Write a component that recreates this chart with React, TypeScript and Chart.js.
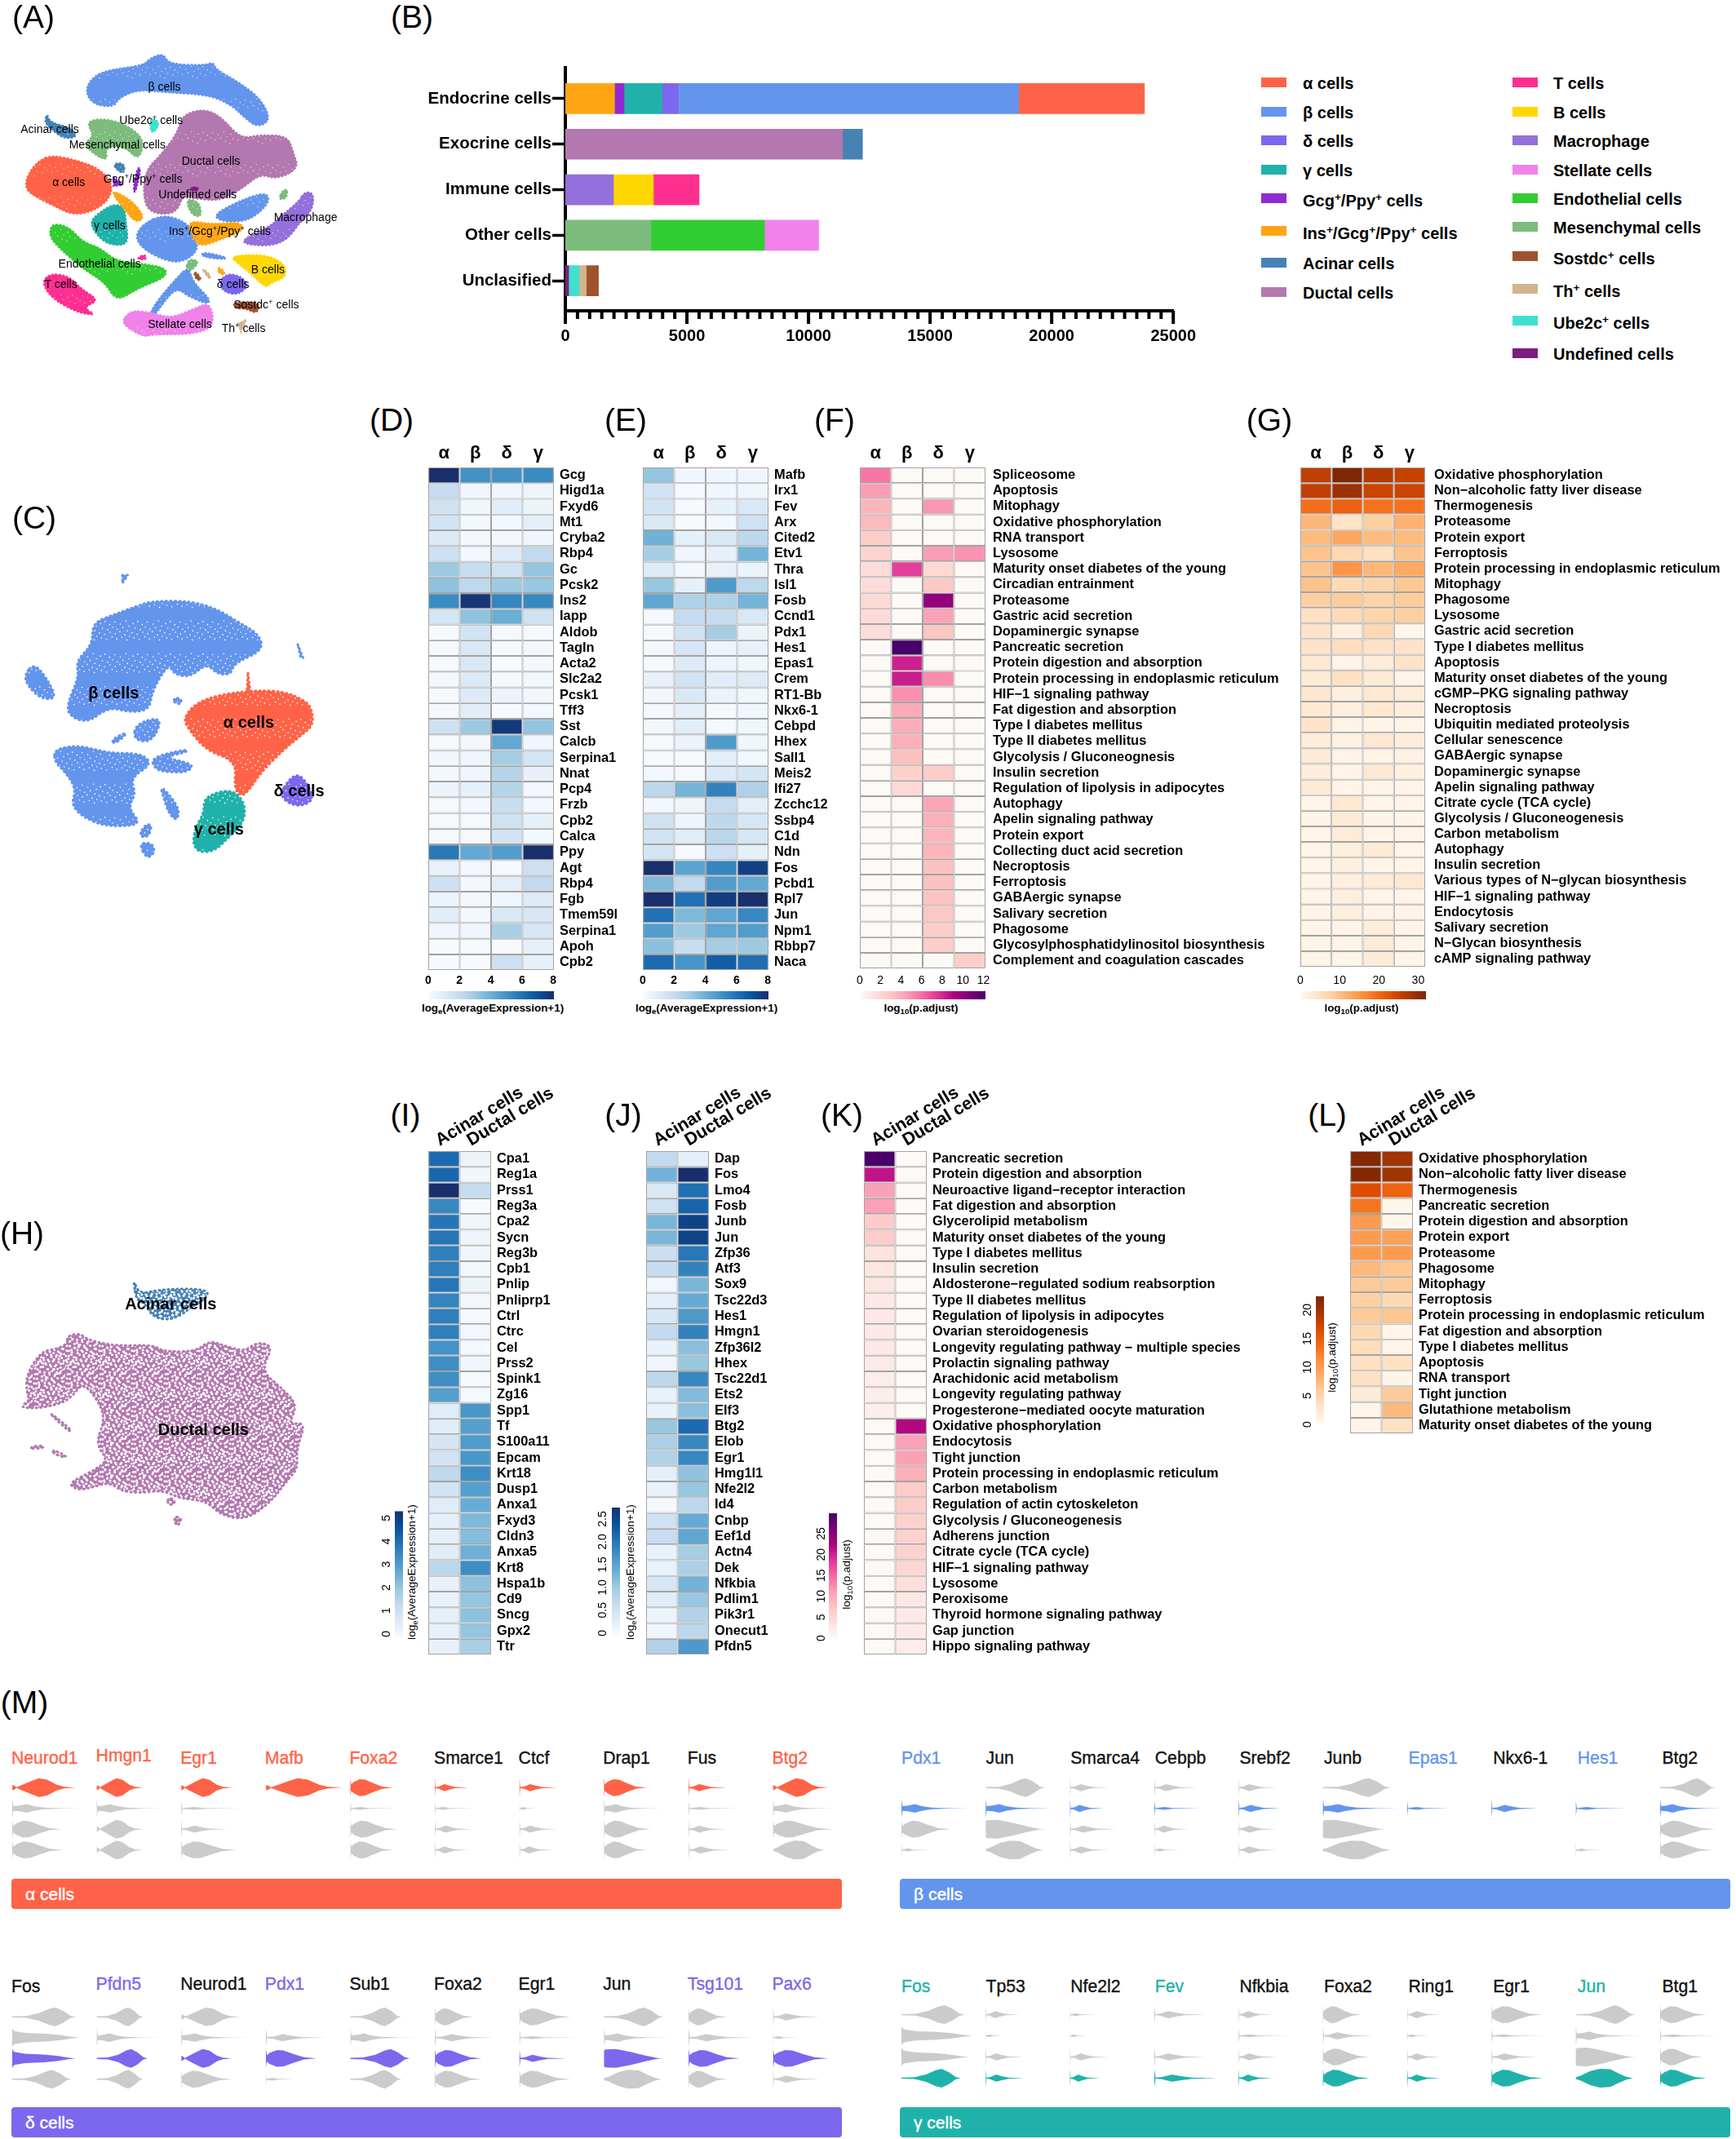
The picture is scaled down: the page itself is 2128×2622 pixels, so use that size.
import React, { useEffect, useRef } from 'react';
import Chart from 'chart.js/auto';

const FONT = '"Liberation Sans", Arial, sans-serif';
const TOMATO = '#ff6347', CORNFLOWER = '#6495ed', SLATE = '#7b68ee', SEA = '#20b2aa';
const GCG = '#8f2bd0', INS = '#ffa514', ACINAR = '#4682b4', DUCTAL = '#b378b0', TCELL = '#ff2f92', BCELL = '#ffd700',
  MACRO = '#9370db', STELLATE = '#f082ea', ENDO = '#32cd32', MESEN = '#7cbc7c', SOSTDC = '#a0522d', TH = '#d2b48c', UBE = '#40e0d0', UNDEF = '#7e1d7e';

/* ---------- (B) stacked bars ---------- */
const groupLabels = ['Endocrine cells', 'Exocrine cells', 'Immune cells', 'Other cells', 'Unclasified'];
const endocrineValues = [2025, 390, 1550, 680, 14000, 5170];
const endocrineColors = [INS, GCG, SEA, SLATE, CORNFLOWER, TOMATO];
const exocrineValues = [11400, 820];
const exocrineColors = [DUCTAL, ACINAR];
const immuneValues = [1980, 1640, 1880];
const immuneColors = [MACRO, BCELL, TCELL];
const otherValues = [3527, 4660, 2230];
const otherColors = [MESEN, ENDO, STELLATE];
const unclassifiedValues = [136, 430, 295, 500];
const unclassifiedColors = [UNDEF, UBE, TH, SOSTDC];
const legendLeft: [string, string, number][] = [['α cells', TOMATO, 101], ['β cells', CORNFLOWER, 137], ['δ cells', SLATE, 172], ['γ cells', SEA, 208], ['Gcg^+/Ppy^+ cells', GCG, 243], ['Ins^+/Gcg^+/Ppy^+ cells', INS, 283], ['Acinar cells', ACINAR, 322], ['Ductal cells', DUCTAL, 358]];
const legendRight: [string, string, number][] = [['T cells', TCELL, 101], ['B cells', BCELL, 137], ['Macrophage', MACRO, 172], ['Stellate cells', STELLATE, 208], ['Endothelial cells', ENDO, 243], ['Mesenchymal cells', MESEN, 278], ['Sostdc^+ cells', SOSTDC, 314], ['Th^+ cells', TH, 354], ['Ube2c^+ cells', UBE, 393], ['Undefined cells', UNDEF, 433]];

/* ---------- heat-map tables ---------- */
const endocrineCols = ['α', 'β', 'δ', 'γ'];
const exoCols = ['Acinar cells', 'Ductal cells'];
const dGenes = ['Gcg', 'Higd1a', 'Fxyd6', 'Mt1', 'Cryba2', 'Rbp4', 'Gc', 'Pcsk2', 'Ins2', 'Iapp', 'Aldob', 'Tagln', 'Acta2', 'Slc2a2', 'Pcsk1', 'Tff3', 'Sst', 'Calcb', 'Serpina1', 'Nnat', 'Pcp4', 'Frzb', 'Cpb2', 'Calca', 'Ppy', 'Agt', 'Rbp4', 'Fgb', 'Tmem59l', 'Serpina1', 'Apoh', 'Cpb2'];
const dValues = [[8, 5, 5, 5.2], [2, .3, .3, .4], [1.6, .3, .9, .5], [1.5, .2, .2, .8], [1.1, .2, .2, .3], [1.7, .2, 1, 2.1], [3, 1.9, 1.6, 3.2], [3.3, 2.2, 3, 3.1], [5.2, 7.8, 5.4, 5.3], [1.4, 3.3, 4, 1.6], [.1, 1.5, .1, .1], [.1, 1.2, .05, .2], [.1, 1.2, .05, .2], [.2, 1.1, .1, .2], [.1, 1, .5, .2], [.1, .9, .05, .2], [1.6, 3, 7.7, 3.2], [.1, .2, 4.2, .3], [.3, .3, 2.8, 1.4], [.2, .3, 2.4, .6], [.5, .7, 2.4, .2], [.1, .2, 1.9, .2], [.1, .1, 1.6, .7], [.1, .1, 1.5, .2], [5.8, 4.2, 4.6, 8], [.6, .2, .1, 1.7], [1.7, .2, .8, 2.1], [.5, .2, .3, 1], [.9, .2, 1.2, 1.3], [.3, .3, 2.7, 1.3], [.05, .1, .05, .7], [.05, .05, 1.7, .7]];
const eGenes = ['Mafb', 'Irx1', 'Fev', 'Arx', 'Cited2', 'Etv1', 'Thra', 'Isl1', 'Fosb', 'Ccnd1', 'Pdx1', 'Hes1', 'Epas1', 'Crem', 'RT1-Bb', 'Nkx6-1', 'Cebpd', 'Hhex', 'Sall1', 'Meis2', 'Ifi27', 'Zcchc12', 'Ssbp4', 'C1d', 'Ndn', 'Fos', 'Pcbd1', 'Rpl7', 'Jun', 'Npm1', 'Rbbp7', 'Naca'];
const eValues = [[3.2, .3, .3, .3], [1.5, .1, .3, .3], [1.5, .1, .7, 1.2], [1.2, .05, .2, 1.6], [3.9, .7, 1.2, 2.2], [2.8, .3, .7, 3.8], [1, .2, .6, .5], [3.1, .7, 4.7, 2.2], [4.3, 2.6, 2.6, 3.8], [.1, 2, 2, 1.2], [.1, 1.6, 2.8, .5], [.2, 1.3, .4, .6], [.1, 1, .4, .3], [.6, 1.5, .9, 1], [.2, 1.2, .5, .3], [.2, .8, .1, .3], [.2, .9, .1, .3], [.1, .5, 4.7, .3], [.1, .1, .8, .2], [.2, .1, 1.1, 1.4], [2.2, 3.8, 5.5, 2.6], [.2, .4, 2, .8], [1.6, .4, 2.2, 1.3], [1.5, .9, 2.3, 1.3], [1.4, .1, 1.7, .7], [8, 4.4, 5.4, 7.5], [3.6, 2.1, 4.6, 4.2], [8, 6, 7.6, 8], [6, 3.6, 4.3, 5.3], [4.6, 3, 4.3, 4.6], [3.4, 1.9, 2.8, 3], [6.2, 4.9, 6.6, 6.1]];
const fTerms = ['Spliceosome', 'Apoptosis', 'Mitophagy', 'Oxidative phosphorylation', 'RNA transport', 'Lysosome', 'Maturity onset diabetes of the young', 'Circadian entrainment', 'Proteasome', 'Gastric acid secretion', 'Dopaminergic synapse', 'Pancreatic secretion', 'Protein digestion and absorption', 'Protein processing in endoplasmic reticulum', 'HIF−1 signaling pathway', 'Fat digestion and absorption', 'Type I diabetes mellitus', 'Type II diabetes mellitus', 'Glycolysis / Gluconeognesis', 'Insulin secretion', 'Regulation of lipolysis in adipocytes', 'Autophagy', 'Apelin signaling pathway', 'Protein export', 'Collecting duct acid secretion', 'Necroptosis', 'Ferroptosis', 'GABAergic synapse', 'Salivary secretion', 'Phagosome', 'Glycosylphosphatidylinositol biosynthesis', 'Complement and coagulation cascades'];
const fValues = [[5.7, 0, 0, 0], [4.6, 0, 0, 0], [3.6, 0, 4.8, 0], [3.5, 0, 0, 0], [2.6, 0, 0, 0], [2.2, 0, 4.6, 4.9], [1.8, 7.3, 2, 0], [1.7, 0, 2.8, 0], [1.9, 0, 10, 0], [1.8, 0, 4.4, 0], [1.7, 0, 3, 0], [0, 12.2, 0, 0], [0, 8.2, 0, 0], [0, 8.3, 5.1, 0], [0, 5, 0, 0], [0, 4.1, 0, 0], [0, 4, 0, 0], [0, 3.9, 0, 0], [0, 3.2, 0, 0], [0, 2.4, 2.6, 0], [0, 2, 0, 0], [0, 0, 4.3, 0], [0, 0, 3.9, 0], [0, 0, 3.7, 0], [0, 0, 3.7, 0], [0, 0, 3.2, 0], [0, 0, 3.2, 0], [0, 0, 3.1, 0], [0, 0, 2.9, 0], [0, 0, 2.6, 0], [0, 0, 2.6, 0], [0, 0, 0, 2.5]];
const gTerms = ['Oxidative phosphorylation', 'Non−alcoholic fatty liver disease', 'Thermogenesis', 'Proteasome', 'Protein export', 'Ferroptosis', 'Protein processing in endoplasmic reticulum', 'Mitophagy', 'Phagosome', 'Lysosome', 'Gastric acid secretion', 'Type I diabetes mellitus', 'Apoptosis', 'Maturity onset diabetes of the young', 'cGMP−PKG signaling pathway', 'Necroptosis', 'Ubiquitin mediated proteolysis', 'Cellular senescence', 'GABAergic synapse', 'Dopaminergic synapse', 'Apelin signaling pathway', 'Citrate cycle (TCA cycle)', 'Glycolysis / Gluconeogenesis', 'Carbon metabolism', 'Autophagy', 'Insulin secretion', 'Various types of N−glycan biosynthesis', 'HIF−1 signaling pathway', 'Endocytosis', 'Salivary secretion', 'N−Glycan biosynthesis', 'cAMP signaling pathway'];
const gValues = [[26, 32, 27, 25.5], [26, 29, 25, 25], [19.5, 21, 19, 19], [11, 4.5, 8, 11.5], [10.5, 13, 10.5, 10.5], [9.5, 6.5, 5, 9.5], [9.5, 15, 11, 12.5], [9.5, 6, 7, 9], [8, 8.5, 7.5, 8.5], [5, 6, 7, 8], [4.5, 2, 6.5, .5], [4.5, 5.5, 4.5, 4.5], [3.5, 1, 2.5, 4.5], [3, 5, 3, 1], [4, 2, 3.5, 2.5], [3.5, 2, 3.5, 2.5], [4.5, 1, 1, 1], [2.5, 1.5, 3.5, 2.5], [3, 1, 1, 1.5], [2.5, 1, 3.5, 2], [3, 1, 1, 1], [1, 3.5, .8, 1], [1, 3, .8, 1], [1, 2.8, .8, 1], [1, 2.3, 3, 1], [1, 2, .8, 1], [1, 2, 2.8, 3.5], [1, 2.2, 1, 1], [1, 2, 1, 1], [1, 1, 2.5, 1], [1, 1, 2.8, 1], [1, 1, 2.8, 1]];
const iGenes = ['Cpa1', 'Reg1a', 'Prss1', 'Reg3a', 'Cpa2', 'Sycn', 'Reg3b', 'Cpb1', 'Pnlip', 'Pnliprp1', 'Ctrl', 'Ctrc', 'Cel', 'Prss2', 'Spink1', 'Zg16', 'Spp1', 'Tf', 'S100a11', 'Epcam', 'Krt18', 'Dusp1', 'Anxa1', 'Fxyd3', 'Cldn3', 'Anxa5', 'Krt8', 'Hspa1b', 'Cd9', 'Sncg', 'Gpx2', 'Ttr'];
const iValues = [[4.1, .3], [4.2, .15], [5.3, 1.3], [3.5, .05], [3.9, .2], [3.9, .25], [3.7, .2], [3.7, .15], [3.9, .3], [3.6, .15], [3.7, .1], [3.7, .15], [3.3, .1], [3.4, .2], [3.4, .05], [3, .1], [.6, 3.2], [.6, 3], [.9, 3.1], [1, 3.2], [1.4, 3.4], [1, 3], [.6, 2.7], [.5, 2.4], [.5, 2.3], [.6, 2.6], [1.5, 3.4], [.4, 2.2], [.4, 2.1], [.5, 2.2], [.4, 2.1], [.4, 1.8]];
const jGenes = ['Dap', 'Fos', 'Lmo4', 'Fosb', 'Junb', 'Jun', 'Zfp36', 'Atf3', 'Sox9', 'Tsc22d3', 'Hes1', 'Hmgn1', 'Zfp36l2', 'Hhex', 'Tsc22d1', 'Ets2', 'Elf3', 'Btg2', 'Elob', 'Egr1', 'Hmg1l1', 'Nfe2l2', 'Id4', 'Cnbp', 'Eef1d', 'Actn4', 'Dek', 'Nfkbia', 'Pdlim1', 'Pik3r1', 'Onecut1', 'Pfdn5'];
const jValues = [[.7, .25], [1.3, 2.7], [.4, 2.05], [.55, 2.15], [1.25, 2.5], [1.25, 2.5], [.6, 1.95], [.65, 1.85], [.08, 1.25], [.25, 1.4], [.45, 1.6], [.7, 1.85], [.2, 1.15], [.1, 1.05], [.75, 1.8], [.2, 1.2], [.2, 1.15], [1.05, 2.1], [.9, 1.8], [.85, 1.8], [.25, 1.1], [.2, 1.05], [.05, .75], [.55, 1.4], [.65, 1.45], [.2, .95], [.2, .9], [.45, 1.3], [.3, 1.05], [.15, .85], [.1, .75], [.85, 1.6]];
const kTerms = ['Pancreatic secretion', 'Protein digestion and absorption', 'Neuroactive ligand−receptor interaction', 'Fat digestion and absorption', 'Glycerolipid metabolism', 'Maturity onset diabetes of the young', 'Type I diabetes mellitus', 'Insulin secretion', 'Aldosterone−regulated sodium reabsorption', 'Type II diabetes mellitus', 'Regulation of lipolysis in adipocytes', 'Ovarian steroidogenesis', 'Longevity regulating pathway − multiple species', 'Prolactin signaling pathway', 'Arachidonic acid metabolism', 'Longevity regulating pathway', 'Progesterone−mediated oocyte maturation', 'Oxidative phosphorylation', 'Endocytosis', 'Tight junction', 'Protein processing in endoplasmic reticulum', 'Carbon metabolism', 'Regulation of actin cytoskeleton', 'Glycolysis / Gluconeogenesis', 'Adherens junction', 'Citrate cycle (TCA cycle)', 'HIF−1 signaling pathway', 'Lysosome', 'Peroxisome', 'Thyroid hormone signaling pathway', 'Gap junction', 'Hippo signaling pathway'];
const kValues = [[29.9, 0], [21, 0], [11, 0], [11, 0], [6.5, 0], [6.5, 0], [3.5, 0], [3, 0], [3, 0], [2.5, 0], [2.5, 0], [2.5, 0], [2.5, 0], [2.3, 0], [1.8, 0], [1.7, 0], [1.6, 0], [0, 22], [0, 11], [0, 11], [0, 9.5], [0, 6.5], [0, 6.3], [0, 6], [0, 5.7], [0, 5.7], [0, 5], [0, 4], [0, 2.5], [0, 2.3], [0, 2.3], [0, 2]];
const lTerms = ['Oxidative phosphorylation', 'Non−alcoholic fatty liver disease', 'Thermogenesis', 'Pancreatic secretion', 'Protein digestion and absorption', 'Protein export', 'Proteasome', 'Phagosome', 'Mitophagy', 'Ferroptosis', 'Protein processing in endoplasmic reticulum', 'Fat digestion and absorption', 'Type I diabetes mellitus', 'Apoptosis', 'RNA transport', 'Tight junction', 'Glutathione metabolism', 'Maturity onset diabetes of the young'];
const lValues = [[22, 20], [22, 20], [16.5, 14.5], [13, .3], [10, .3], [10, 9.5], [10, 10], [7.5, 6.5], [6, 6], [5.5, 4.5], [6, 6.5], [4.5, .6], [4, .6], [3.5, 3.5], [3.5, .6], [2, 6], [.6, 7.5], [.6, 3.5]];

const BLUES = ['#f7fbff', '#deebf7', '#c6dbef', '#9ecae1', '#6baed6', '#4292c6', '#2171b5', '#08519c', '#192f6b'];
const PINKS = ['#fdf9f5', '#fde0dd', '#fcc5c0', '#fa9fb5', '#f768a1', '#dd3497', '#ae017e', '#7a0177', '#49006a'];
const ORANGES = ['#fff8ef', '#fee6ce', '#fdd0a2', '#fdae6b', '#fd8d3c', '#f16913', '#d94801', '#a63603', '#7f2704'];

/* ---------- cluster outlines read from the embeddings ---------- */
const aBlobs: [string, number[]][] = [
  [CORNFLOWER, [160, 300, 185, 260, 260, 240, 270, 215, 295, 195, 305, 235, 370, 240, 385, 228, 390, 255, 430, 300, 470, 360, 490, 440, 465, 470, 440, 430, 420, 390, 380, 350, 300, 340, 250, 330, 215, 360, 205, 395, 170, 385, 155, 345]],
  [DUCTAL, [330, 420, 370, 400, 400, 430, 435, 510, 470, 495, 520, 500, 530, 560, 540, 620, 500, 660, 470, 640, 440, 690, 400, 740, 350, 730, 330, 720, 320, 780, 290, 790, 265, 770, 258, 700, 265, 620, 290, 570, 320, 490]],
  [MESEN, [155, 445, 190, 435, 230, 460, 260, 510, 255, 570, 245, 580, 225, 540, 190, 540, 195, 590, 175, 575, 150, 530, 170, 500]],
  [MESEN, [510, 700, 520, 695, 518, 730, 503, 735]],
  [MESEN, [335, 730, 360, 740, 365, 800, 345, 790]],
  [MESEN, [340, 950, 360, 960, 350, 990, 335, 1000]],
  [ACINAR, [85, 415, 90, 450, 130, 470, 140, 505, 115, 510, 95, 480, 80, 450]],
  [ACINAR, [205, 600, 225, 600, 225, 640, 210, 625]],
  [TOMATO, [95, 570, 140, 590, 180, 620, 205, 680, 195, 740, 165, 780, 130, 790, 100, 760, 60, 720, 45, 690, 50, 640, 70, 590]],
  [SEA, [205, 750, 225, 760, 228, 820, 232, 890, 215, 905, 185, 890, 160, 820, 180, 780]],
  [INS, [205, 700, 240, 740, 262, 800, 245, 820, 225, 770, 205, 720]],
  [CORNFLOWER, [295, 790, 330, 810, 350, 850, 360, 920, 330, 965, 300, 960, 260, 920, 243, 870, 260, 820]],
  [CORNFLOWER, [430, 740, 480, 705, 488, 740, 465, 790, 440, 815, 400, 815, 385, 790]],
  [CORNFLOWER, [365, 925, 410, 945, 405, 955, 365, 945]],
  [CORNFLOWER, [340, 980, 350, 1040, 380, 1100, 375, 1120, 340, 1090, 320, 1060, 300, 1100, 280, 1160, 270, 1150, 290, 1090, 320, 1020]],
  [INS, [340, 810, 385, 825, 435, 815, 440, 850, 400, 880, 360, 910, 345, 860]],
  [GCG, [248, 615, 255, 620, 245, 710, 240, 700]],
  [GCG, [205, 650, 222, 680, 205, 685]],
  [MACRO, [550, 705, 567, 710, 565, 770, 545, 810, 520, 880, 490, 905, 445, 900, 437, 880, 490, 830, 510, 790, 540, 740]],
  [ENDO, [95, 820, 125, 835, 150, 890, 180, 910, 210, 960, 260, 970, 300, 985, 300, 1020, 250, 1060, 210, 1110, 190, 1040, 150, 990, 100, 900, 88, 860]],
  [TCELL, [90, 1005, 125, 1015, 145, 1060, 180, 1105, 150, 1130, 175, 1160, 140, 1150, 95, 1100, 75, 1040]],
  [TCELL, [250, 945, 262, 935, 265, 955, 250, 955]],
  [BCELL, [415, 940, 480, 935, 515, 970, 517, 1020, 490, 1040, 480, 1060, 455, 1010, 430, 970]],
  [INS, [392, 985, 400, 985, 408, 1010, 398, 1010]],
  [SLATE, [410, 1005, 435, 1015, 450, 1050, 430, 1085, 405, 1075, 395, 1040]],
  [STELLATE, [240, 1140, 275, 1150, 310, 1170, 350, 1135, 380, 1110, 388, 1200, 350, 1230, 275, 1230, 260, 1240, 225, 1200, 222, 1170]],
  [SOSTDC, [355, 1000, 365, 1030, 355, 1030, 350, 1005]],
  [SOSTDC, [420, 1110, 470, 1110, 465, 1155, 445, 1135, 425, 1135]],
  [TH, [365, 985, 380, 1010, 380, 1030, 370, 1005]],
  [TH, [430, 1190, 445, 1175, 435, 1220]],
  [UBE, [275, 430, 290, 455, 275, 495, 270, 460]],
  [UNDEF, [345, 688, 358, 688, 358, 702, 345, 702]],
];
const aLabels: [string, number, number][] = [['β cells', 297, 318], ['Ube2c^+ cells', 273, 440], ['Acinar cells', 90, 474], ['Mesenchymal cells', 212, 530], ['Ductal cells', 381, 592], ['α cells', 124, 668], ['Gcg^+/Ppy^+ cells', 258, 658], ['Undefined cells', 357, 714], ['Macrophage', 552, 798], ['γ cells', 198, 828], ['Ins^+/Gcg^+/Ppy^+ cells', 397, 850], ['Endothelial cells', 180, 969], ['B cells', 484, 991], ['T cells', 110, 1045], ['δ cells', 421, 1044], ['Sostdc^+ cells', 481, 1120], ['Stellate cells', 325, 1192], ['Th^+ cells', 440, 1207]];

const cBlobs: [string, number[]][] = [
  [CORNFLOWER, [340, 490, 420, 460, 500, 430, 560, 410, 700, 410, 800, 440, 880, 490, 950, 530, 970, 590, 860, 640, 850, 680, 800, 680, 760, 640, 700, 690, 640, 680, 620, 640, 560, 740, 550, 810, 480, 820, 400, 800, 320, 860, 250, 830, 250, 780, 290, 690, 280, 630, 340, 570]],
  [CORNFLOWER, [125, 640, 170, 690, 210, 770, 150, 770, 100, 720, 90, 680]],
  [CORNFLOWER, [200, 955, 290, 940, 400, 970, 520, 970, 560, 1010, 480, 1060, 500, 1120, 470, 1170, 520, 1230, 440, 1240, 350, 1230, 260, 1170, 280, 1100, 240, 1040, 200, 1000]],
  [CORNFLOWER, [500, 860, 600, 835, 560, 930, 490, 920]],
  [CORNFLOWER, [410, 920, 470, 890, 450, 915, 420, 935]],
  [CORNFLOWER, [555, 985, 685, 955, 690, 965, 600, 985, 715, 1010, 690, 1040, 620, 1040, 570, 1030]],
  [CORNFLOWER, [590, 1090, 630, 1130, 660, 1180, 650, 1220, 620, 1190, 600, 1130]],
  [CORNFLOWER, [510, 1300, 560, 1300, 570, 1335, 540, 1360]],
  [CORNFLOWER, [535, 1230, 560, 1235, 545, 1280, 510, 1275]],
  [CORNFLOWER, [450, 315, 470, 315, 450, 345]],
  [CORNFLOWER, [1095, 570, 1115, 620, 1105, 615]],
  [CORNFLOWER, [640, 765, 668, 770, 665, 790, 640, 785]],
  [TOMATO, [670, 840, 740, 770, 900, 740, 1040, 740, 1130, 780, 1150, 820, 1150, 870, 1100, 910, 1040, 960, 960, 1040, 920, 1100, 890, 1130, 860, 1100, 870, 1000, 760, 960, 700, 890]],
  [TOMATO, [912, 675, 920, 740, 908, 740]],
  [SEA, [750, 1130, 850, 1100, 900, 1150, 900, 1220, 840, 1280, 790, 1330, 730, 1335, 708, 1300, 720, 1240, 750, 1190]],
  [SLATE, [1060, 1070, 1095, 1045, 1130, 1080, 1155, 1140, 1110, 1165, 1060, 1155, 1030, 1120]],
];
const cLabels: [string, number, number][] = [['β cells', 418, 748], ['α cells', 915, 855], ['γ cells', 805, 1248], ['δ cells', 1100, 1108]];

const hBlobs: [string, number[]][] = [
  [DUCTAL, [245, 475, 290, 462, 330, 490, 430, 510, 560, 505, 600, 530, 720, 530, 770, 490, 830, 510, 900, 530, 945, 495, 1005, 510, 960, 600, 1030, 660, 1095, 725, 1060, 800, 1125, 790, 1090, 890, 1095, 960, 1060, 1000, 990, 1090, 900, 1150, 810, 1130, 760, 1080, 660, 1070, 600, 1040, 520, 1050, 450, 1045, 400, 1010, 340, 1030, 285, 1040, 250, 1015, 340, 970, 400, 930, 350, 870, 390, 770, 340, 680, 300, 650, 270, 690, 230, 720, 140, 740, 70, 735, 110, 710, 100, 690, 95, 620, 150, 530, 210, 520, 250, 500]],
  [DUCTAL, [185, 755, 265, 820, 255, 825, 195, 770]],
  [DUCTAL, [115, 880, 160, 875, 158, 885, 115, 888]],
  [DUCTAL, [195, 890, 245, 915, 235, 920, 195, 905]],
  [DUCTAL, [620, 1065, 645, 1080, 635, 1095, 615, 1090]],
  [DUCTAL, [640, 1135, 670, 1145, 655, 1170, 645, 1165]],
  [ACINAR, [490, 260, 510, 320, 600, 300, 760, 300, 765, 330, 700, 370, 660, 400, 610, 415, 560, 400, 530, 350, 500, 340]],
];
const hLabels: [string, number, number][] = [['Acinar cells', 628, 355], ['Ductal cells', 748, 817]];
const speckles = [[5, 7], [14, 3], [23, 9], [33, 4], [44, 8], [55, 2], [61, 12], [9, 16], [19, 19], [29, 14], [38, 18], [49, 15], [58, 21], [3, 25], [13, 28], [24, 24], [34, 27], [43, 23], [53, 29], [62, 32], [7, 35], [17, 38], [28, 33], [37, 37], [47, 34], [57, 39], [2, 44], [11, 47], [22, 43], [32, 46], [42, 42], [51, 47], [60, 50], [6, 54], [16, 57], [26, 52], [36, 56], [46, 53], [55, 58], [63, 60], [10, 62], [30, 61], [20, 50], [40, 62], [49, 6], [26, 18], [41, 30], [15, 44]];

/* ---------- violins (M): template + length in column widths, rows top to bottom ---------- */
const violinShapes: Record<string, number[]> = {
  B: [0, .25, .02, .25, .07, .05, .14, .25, .3, .7, .42, 1, .55, .85, .7, .3, .82, .08, 1, 0],
  S: [0, 1, .02, .35, .08, .6, .22, .9, .35, .85, .55, .45, .75, .12, 1, 0],
  R: [0, .1, .08, .25, .25, .75, .42, 1, .6, .95, .75, .5, .88, .15, 1, 0],
  P: [0, .06, .22, .1, .42, .4, .58, .85, .68, 1, .8, .65, .92, .12, 1, 0],
  W: [0, .85, .02, .95, .2, 1, .45, .7, .7, .3, .9, .05, 1, 0],
  F: [0, 1, .03, .7, .2, .5, .5, .42, .7, .28, .88, .08, 1, 0],
  L: [0, 1, .015, .25, .1, .3, .2, .45, .3, .25, .45, .08, .7, .03, 1, 0],
  T: [0, 1, .02, .06, .12, .12, .28, .38, .42, .22, .6, .07, 1, 0],
  N: [0, .8, .02, .05, .1, .08, .22, .16, .4, .05, 1, 0],
};
const alphaGenes = ['Neurod1', 'Hmgn1', 'Egr1', 'Mafb', 'Foxa2', 'Smarce1', 'Ctcf', 'Drap1', 'Fus', 'Btg2'];
const alphaHits = ['Neurod1', 'Hmgn1', 'Egr1', 'Mafb', 'Foxa2', 'Btg2'];
const alphaViolins = ['B.75 L.85 S.58 S.6', 'B.55 L.8 B.55 B.55', 'B.6 N.7 T.55 S.65', 'B.9 - - -', 'S.5 N.55 S.55 S.5', 'T.4 N.45 T.45 T.4', 'T.45 N.2 T.45 T.4', 'S.5 L.7 S.55 S.5', 'T.45 N.6 T.45 T.5', 'B.65 L.75 S.7 R.6'];
const betaGenes = ['Pdx1', 'Jun', 'Smarca4', 'Cebpb', 'Srebf2', 'Junb', 'Epas1', 'Nkx6-1', 'Hes1', 'Btg2'];
const betaHits = ['Pdx1', 'Epas1', 'Hes1'];
const betaViolins = ['- L.8 S.58 N.35', 'P.7 L.8 W.7 R.68', 'T.45 T.4 T.55 T.45', 'T.5 N.55 T.4 N.3', 'T.45 T.5 T.45 T.45', 'P.8 L.9 W.75 R.8', '- N.5 - -', '- T.55 - -', '- N.6 - N.3', 'P.65 L.75 S.65 S.62'];
const deltaGenes = ['Fos', 'Pfdn5', 'Neurod1', 'Pdx1', 'Sub1', 'Foxa2', 'Egr1', 'Jun', 'Tsg101', 'Pax6'];
const deltaHits = ['Pfdn5', 'Pdx1', 'Tsg101', 'Pax6'];
const deltaViolins = ['P.75 F.8 F.75 P.7', 'P.55 L.75 P.6 P.55', 'B.7 L.8 B.6 S.6', '- T.7 S.6 N.35', 'P.6 L.8 P.7 P.6', 'S.45 T.7 S.55 S.55', 'S.6 N.7 T.55 S.6', 'P.7 L.8 W.7 R.68', 'S.45 T.75 S.6 S.45', 'T.55 N.3 S.65 T.55'];
const gammaGenes = ['Fos', 'Tp53', 'Nfe2l2', 'Fev', 'Nfkbia', 'Foxa2', 'Ring1', 'Egr1', 'Jun', 'Btg1'];
const gammaHits = ['Fos', 'Fev', 'Jun'];
const gammaViolins = ['P.75 F.85 F.8 P.7', 'T.4 N.2 T.45 T.45', 'N.3 N.2 T.45 T.35', 'T.6 - T.6 T.75', 'T.4 N.6 T.45 T.4', 'S.45 T.6 S.55 S.55', 'T.4 N.25 T.4 T.4', 'S.6 N.65 T.55 S.6', 'P.7 L.8 W.7 R.68', 'S.55 N.7 S.5 S.55'];

/* ---------- helpers ---------- */
const hex = (c: string) => [1, 3, 5].map(i => parseInt(c.slice(i, i + 2), 16));
function tone(v: number, max: number, pal: string[]) {
  const t = Math.max(0, Math.min(1, v / max)) * (pal.length - 1);
  const i = Math.min(Math.floor(t), pal.length - 2), f = t - i;
  const a = hex(pal[i]), b = hex(pal[i + 1]);
  return `rgb(${a.map((x, k) => Math.round(x + (b[k] - x) * f)).join(',')})`;
}
const pairs = (a: number[]) => { const o: { x: number; y: number }[] = []; for (let i = 0; i < a.length; i += 2) o.push({ x: a[i], y: a[i + 1] }); return o; };

function speckleFill(ctx: CanvasRenderingContext2D, color: string, count: number, r: number, passes: number) {
  const T = 40;
  const c = document.createElement('canvas'); c.width = T; c.height = T;
  const g = c.getContext('2d')!;
  g.fillStyle = color; g.fillRect(0, 0, T, T); g.fillStyle = '#fff';
  for (let p = 0; p < passes; p++) speckles.slice(0, count).forEach(([x, y]) => {
    g.beginPath(); g.arc((x * .625 + p * 17) % T, (y * .625 + p * 11) % T, r, 0, 7); g.fill();
  });
  return ctx.createPattern(c, 'repeat')!;
}
const polyPlugin = {
  id: 'polyFill',
  afterDatasetsDraw(chart: any) {
    const ctx = chart.ctx;
    chart.data.datasets.forEach((ds: any, i: number) => {
      const pts = chart.getDatasetMeta(i).data;
      if (!pts.length) return;
      ctx.save(); ctx.beginPath();
      if (ds.smooth) {
        const n = pts.length, mid = (a: any, b: any) => [(a.x + b.x) / 2, (a.y + b.y) / 2];
        const s = mid(pts[n - 1], pts[0]);
        ctx.moveTo(s[0], s[1]);
        pts.forEach((p: any, j: number) => { const m = mid(p, pts[(j + 1) % n]); ctx.quadraticCurveTo(p.x, p.y, m[0], m[1]); });
      } else pts.forEach((p: any, j: number) => (j ? ctx.lineTo(p.x, p.y) : ctx.moveTo(p.x, p.y)));
      ctx.closePath();
      ctx.fillStyle = ds.speck ? speckleFill(ctx, ds.tone, ds.speck[0], ds.speck[1], ds.speck[2]) : ds.tone;
      ctx.fill();
      if (ds.edge) { ctx.strokeStyle = ds.tone; ctx.lineWidth = ds.edge; ctx.lineCap = 'round'; ctx.setLineDash([1, ds.edge + 1.5]); ctx.stroke(); }
      ctx.restore();
    });
  },
};
const quiet = { legend: { display: false }, tooltip: { enabled: false } };
const hiddenLinear = (max: number, reverse = false) => ({ type: 'linear', display: false, min: 0, max, reverse });

function blobChart(blobs: [string, number[]][], xMax: number, yMax: number, speck: number[], edge: number) {
  return {
    type: 'scatter',
    data: { datasets: blobs.map(([c, pts]) => ({ data: pairs(pts), tone: c, speck, edge, smooth: pts.length > 6, pointRadius: 0, showLine: false })) },
    options: { animation: false, responsive: false, layout: { padding: 0 }, plugins: quiet, scales: { x: hiddenLinear(xMax), y: hiddenLinear(yMax, true) } },
    plugins: [polyPlugin],
  };
}

function violinChart(violins: string[], accentRow: number, accent: string, spacing: number) {
  const datasets: any[] = [];
  violins.forEach((spec, col) => spec.split(' ').forEach((item, row) => {
    if (item === '-') return;
    const shape = violinShapes[item[0]], len = parseFloat(item.slice(1));
    const upper: number[] = [], lower: number[] = [];
    for (let i = 0; i < shape.length; i += 2) {
      const dy = (shape[i + 1] * 11.5) / spacing;
      upper.push(col + shape[i] * len, row - dy);
      lower.unshift(col + shape[i] * len, row + dy);
    }
    datasets.push({ data: pairs(upper.concat(lower)), tone: row === accentRow ? accent : '#cbcbcb', pointRadius: 0, showLine: false });
  }));
  return {
    type: 'scatter', data: { datasets },
    options: { animation: false, responsive: false, layout: { padding: 0 }, plugins: quiet, scales: { x: { type: 'linear', display: false, min: 0, max: 9.9 }, y: { type: 'linear', display: false, min: -.6, max: 3.6, reverse: true } } },
    plugins: [polyPlugin],
  };
}

function heatChart(rows: string[], cols: string[], values: number[][], max: number, pal: string[], head: number, side: number, rotate: number, pad: number, labelPad = 7) {
  return {
    type: 'bar',
    data: {
      labels: rows,
      datasets: cols.map((_, c) => ({
        data: rows.map(() => [c, c + 1]),
        backgroundColor: values.map(r => tone(r[c], max, pal)),
        borderColor: '#a3a3a3', borderWidth: 1.1, borderSkipped: false, inflateAmount: 0, barPercentage: 1, categoryPercentage: 1, grouped: false,
      })),
    },
    options: {
      indexAxis: 'y', animation: false, responsive: false, layout: { padding: { bottom: 14 } }, plugins: quiet,
      scales: {
        x: {
          type: 'linear', position: 'top', min: 0, max: cols.length,
          afterBuildTicks: (s: any) => { s.ticks = cols.map((_, i) => ({ value: i + (rotate ? .63 : .5) })); },
          afterFit: (s: any) => { s.height = head; },
          ticks: { autoSkip: false, includeBounds: false, callback: (v: number) => cols[Math.floor(v)], color: '#000', padding: pad, minRotation: rotate, maxRotation: rotate, font: { family: FONT, weight: 'bold', size: rotate ? 21.5 : 22 } },
          grid: { display: false, drawTicks: false }, border: { display: false },
        },
        y: {
          type: 'category', position: 'right',
          afterFit: (s: any) => { s.width = side; },
          ticks: { autoSkip: false, color: '#000', padding: labelPad, font: { family: FONT, weight: 'bold', size: 16.4 } },
          grid: { display: false, drawTicks: false }, border: { display: false },
        },
      },
    },
  };
}

function hBar(max: number, step: number, pal: string[], bold: boolean) {
  return {
    type: 'bar',
    data: {
      labels: [''],
      datasets: [{
        data: [[0, max]], barPercentage: 1, categoryPercentage: 1,
        backgroundColor: (c: any) => {
          const a = c.chart.chartArea; if (!a) return pal[0];
          const g = c.chart.ctx.createLinearGradient(a.left, 0, a.right, 0);
          pal.forEach((p, i) => g.addColorStop(i / (pal.length - 1), p)); return g;
        },
      }],
    },
    options: {
      indexAxis: 'y', animation: false, responsive: false, layout: { padding: { left: 20, right: 20 } }, plugins: quiet,
      scales: {
        y: { display: false },
        x: {
          type: 'linear', position: 'top', min: 0, max, afterFit: (s: any) => { s.height = 22; },
          ticks: { stepSize: step, includeBounds: false, autoSkip: false, maxRotation: 0, color: '#000', padding: 4, font: { family: FONT, weight: bold ? 'bold' : 'normal', size: 14 } },
          grid: { display: false, drawTicks: false }, border: { display: false },
        },
      },
    },
  };
}

function vBar(min: number, max: number, step: number, pal: string[], pad: number) {
  return {
    type: 'bar',
    data: {
      labels: [''],
      datasets: [{
        data: [[min, max]], barPercentage: 1, categoryPercentage: 1,
        backgroundColor: (c: any) => {
          const a = c.chart.chartArea; if (!a) return pal[0];
          const g = c.chart.ctx.createLinearGradient(0, a.bottom, 0, a.top);
          pal.forEach((p, i) => g.addColorStop(i / (pal.length - 1), p)); return g;
        },
      }],
    },
    options: {
      animation: false, responsive: false, layout: { padding: { top: 14, bottom: 14 } }, plugins: quiet,
      scales: {
        x: { display: false },
        y: {
          type: 'linear', position: 'left', min, max, afterFit: (s: any) => { s.width = 30; },
          ticks: { stepSize: step, includeBounds: false, autoSkip: false, minRotation: 90, maxRotation: 90, crossAlign: 'center', color: '#000', padding: pad, font: { family: FONT, size: 14 } },
          grid: { display: false, drawTicks: false }, border: { display: false },
        },
      },
    },
  };
}

const combTicks = {
  id: 'combTicks',
  afterDraw(chart: any) {
    const s = chart.scales.x, ctx = chart.ctx;
    ctx.save(); ctx.fillStyle = '#000';
    (s.ticks as { value: number }[]).forEach(({ value }) => {
      const p = s.getPixelForValue(value);
      ctx.fillRect(p - 2, s.top, 4, value % 5000 === 0 ? 16 : 10);
    });
    ctx.restore();
  },
};

function stackChart() {
  const groups: [number[], string[]][] = [[endocrineValues, endocrineColors], [exocrineValues, exocrineColors], [immuneValues, immuneColors], [otherValues, otherColors], [unclassifiedValues, unclassifiedColors]];
  const datasets: any[] = [];
  groups.forEach(([vals, cols], row) => vals.forEach((v, i) => datasets.push({ data: [{ x: v, y: row }], backgroundColor: cols[i], barThickness: 37, stack: 's' })));
  return {
    type: 'bar', data: { datasets },
    options: {
      indexAxis: 'y', animation: false, responsive: false, layout: { padding: { top: 23, right: 30 } }, plugins: quiet,
      scales: {
        x: {
          type: 'linear', stacked: true, position: 'bottom', min: 0, max: 25000,
          afterFit: (s: any) => { s.height = 49; },
          ticks: { stepSize: 500, autoSkip: false, maxRotation: 0, color: '#000', padding: 19, callback: (v: number) => (v % 5000 === 0 ? String(v) : ''), font: { family: FONT, weight: 'bold', size: 20 } },
          grid: { display: false, drawTicks: false }, border: { display: true, color: '#000', width: 4 },
        },
        y: {
          type: 'linear', stacked: true, offset: false, position: 'left', reverse: true, min: -.68, max: 4.66,
          afterBuildTicks: (s: any) => { s.ticks = groupLabels.map((_, i) => ({ value: i })); },
          afterFit: (s: any) => { s.width = 254; },
          ticks: { autoSkip: false, color: '#000', padding: 1, callback: (v: number) => groupLabels[v], font: { family: FONT, weight: 'bold', size: 20.5 } },
          grid: { offset: false, drawOnChartArea: false, tickLength: 16, tickWidth: 3.5, tickColor: '#000' }, border: { display: true, color: '#000', width: 4 },
        },
      },
    },
    plugins: [combTicks],
  };
}

/* ---------- React pieces ---------- */
function Box({ x, y, w, h, make }: { x: number; y: number; w: number; h: number; make: () => any }) {
  const ref = useRef<HTMLCanvasElement>(null);
  useEffect(() => {
    const chart = new Chart(ref.current as any, make());
    return () => chart.destroy();
  }, []);
  return <canvas ref={ref} width={w} height={h} style={{ position: 'absolute', left: x, top: y, width: w, height: h, display: 'block' }} />;
}
function Rich({ s }: { s: string }) {
  return <>{s.split(/(\^\+|~[^~]+~)/).map((p, i) => p === '^+' ? <sup key={i} style={{ fontSize: '.68em', lineHeight: 0, verticalAlign: '.55em' }}>+</sup> : p.startsWith('~') ? <sub key={i} style={{ fontSize: '.72em', lineHeight: 0, verticalAlign: '-.25em' }}>{p.slice(1, -1)}</sub> : <span key={i}>{p}</span>)}</>;
}
function Txt({ x, y, s, size = 16, bold = false, center = true, rot = 0, color = '#000' }: any) {
  return <div style={{ position: 'absolute', left: x, top: y, whiteSpace: 'nowrap', fontFamily: FONT, fontSize: size, fontWeight: bold ? 700 : 400, lineHeight: 1, color, transform: `translate(${center ? '-50%' : '0'},-50%) rotate(${rot}deg)` }}><Rich s={s} /></div>;
}

const panelTags: [string, number, number][] = [['(A)', 41, 20], ['(B)', 505, 20], ['(C)', 42, 634], ['(D)', 480, 514], ['(E)', 767, 514], ['(F)', 1023, 514], ['(G)', 1556, 514], ['(H)', 27, 1511], ['(I)', 497, 1366], ['(J)', 764, 1366], ['(K)', 1032, 1366], ['(L)', 1627, 1366], ['(M)', 30, 2086]];
const LOGE = 'log~e~(AverageExpression+1)', LOG10 = 'log~10~(p.adjust)';

function GeneRow({ genes, hits, accent, x, y }: any) {
  return <>{genes.map((g: string, i: number) => <div key={i} style={{ position: 'absolute', left: x + i * 103.6, top: y + ((g === 'Hmgn1') ? -3 : (g === 'Fos' && accent === SLATE) ? 3 : 0), transform: 'translateY(-50%)', fontFamily: FONT, fontSize: 21.2, lineHeight: 1, whiteSpace: 'nowrap', WebkitTextStroke: '0.35px', color: hits.includes(g) ? accent : '#111' }}>{g}</div>)}</>;
}
function Band({ x, y, color, s }: any) {
  return <div style={{ position: 'absolute', left: x, top: y, width: 1018, height: 37, background: color, borderRadius: 4, color: '#fff', fontFamily: FONT, fontWeight: 400, WebkitTextStroke: '0.4px', fontSize: 21, lineHeight: '37px', textIndent: 17 }}>{s}</div>;
}

export default function App() {
  useEffect(() => { document.body.style.margin = '0'; document.body.style.background = '#fff'; }, []);
  return (
    <div style={{ position: 'absolute', left: 0, top: 0, width: 2128, height: 2622, overflow: 'hidden', background: '#fff' }}>
      {/* A */}
      <Box x={0} y={0} w={460} h={450} make={() => blobChart(aBlobs, 460 * 1.4737, 1350, [14, .6, 1], 2)} />
      {aLabels.map(([s, x, y], i) => <Txt key={i} x={x / 1.4737} y={y / 3} s={s} size={14} />)}
      {/* B */}
      <Box x={439} y={60} w={1046} h={370} make={stackChart} />
      {legendLeft.map(([s, c, y], i) => <React.Fragment key={i}><div style={{ position: 'absolute', left: 1546, top: y - 6, width: 31, height: 12, background: c }} /><Txt x={1597} y={y + (s.includes('^') ? 3 : 1)} s={s} size={20} bold center={false} /></React.Fragment>)}
      {legendRight.map(([s, c, y], i) => <React.Fragment key={i}><div style={{ position: 'absolute', left: 1854, top: y - 6, width: 31, height: 12, background: c }} /><Txt x={1904} y={y + (s.includes('^') ? 3 : 1)} s={s} size={20} bold center={false} /></React.Fragment>)}
      {/* C */}
      <Box x={0} y={600} w={440} h={480} make={() => blobChart(cBlobs, 1320, 1440, [26, .8, 1], 3)} />
      {cLabels.map(([s, x, y], i) => <Txt key={i} x={x / 3} y={600 + y / 3} s={s} size={20} bold />)}
      {/* H */}
      <Box x={0} y={1480} w={440} h={400} make={() => blobChart(hBlobs, 1320, 1200, [48, 1.5, 2], 3)} />
      {hLabels.map(([s, x, y], i) => <Txt key={i} x={x / 3} y={1480 + y / 3} s={s} size={20} bold />)}
      {/* D-G */}
      <Box x={525} y={533} w={254} h={40 + 619 + 14} make={() => heatChart(dGenes, endocrineCols, dValues, 8, BLUES, 40, 100, 0, 4)} />
      <Box x={788} y={533} w={254} h={673} make={() => heatChart(eGenes, endocrineCols, eValues, 8, BLUES, 40, 100, 0, 4)} />
      <Box x={1054} y={533} w={534} h={673} make={() => heatChart(fTerms, endocrineCols, fValues, 12.2, PINKS, 40, 380, 0, 4, 9)} />
      <Box x={1594} y={533} w={534} h={673} make={() => heatChart(gTerms, endocrineCols, gValues, 32, ORANGES, 40, 381, 0, 4, 11)} />
      <Box x={505} y={1193} w={194} h={32} make={() => hBar(8.05, 2, BLUES, true)} />
      <Box x={768} y={1193} w={194} h={32} make={() => hBar(8.05, 2, BLUES, true)} />
      <Box x={1034} y={1193} w={194} h={32} make={() => hBar(12.2, 2, PINKS, false)} />
      <Box x={1574} y={1193} w={194} h={32} make={() => hBar(32, 10, ORANGES, false)} />
      <Txt x={604} y={1236} s={LOGE} size={13.4} bold />
      <Txt x={866} y={1236} s={LOGE} size={13.4} bold />
      <Txt x={1129} y={1236} s={LOG10} size={13.4} bold />
      <Txt x={1669} y={1236} s={LOG10} size={13.4} bold />
      {/* I-L */}
      <Box x={525} y={1321} w={237} h={90 + 620 + 14} make={() => heatChart(iGenes, exoCols, iValues, 5.3, BLUES, 90, 160, 31, 0)} />
      <Box x={792} y={1321} w={237} h={724} make={() => heatChart(jGenes, exoCols, jValues, 2.7, BLUES, 90, 160, 31, 0)} />
      <Box x={1059} y={1321} w={477} h={724} make={() => heatChart(kTerms, exoCols, kValues, 29.9, PINKS, 90, 400, 31, 0)} />
      <Box x={1655} y={1321} w={473} h={90 + 349 + 14} make={() => heatChart(lTerms, exoCols, lValues, 22.4, ORANGES, 90, 396, 31, 0)} />
      <Box x={454} y={1838} w={40} h={184} make={() => vBar(-.17, 5.3, 1, BLUES, 6)} />
      <Box x={720} y={1834} w={40} h={184} make={() => vBar(-.04, 2.75, .5, BLUES, 1)} />
      <Box x={986} y={1841} w={40} h={181} make={() => vBar(0, 29.9, 5, PINKS, 1)} />
      <Box x={1583} y={1575} w={40} h={185} make={() => vBar(0, 22.4, 5, ORANGES, 2)} />
      <Txt x={505} y={1927} s={LOGE} size={13.6} rot={-90} />
      <Txt x={773} y={1927} s={LOGE} size={13.6} rot={-90} />
      <Txt x={1038} y={1930} s={LOG10} size={13.6} rot={-90} />
      <Txt x={1633} y={1664} s={LOG10} size={13.6} rot={-90} />
      {/* M */}
      <GeneRow genes={alphaGenes} hits={alphaHits} accent={TOMATO} x={14} y={2155} />
      <GeneRow genes={betaGenes} hits={betaHits} accent={CORNFLOWER} x={1105} y={2155} />
      <GeneRow genes={deltaGenes} hits={deltaHits} accent={SLATE} x={14} y={2432} />
      <GeneRow genes={gammaGenes} hits={gammaHits} accent={SEA} x={1105} y={2435} />
      <Box x={15} y={2176} w={1026} h={107} make={() => violinChart(alphaViolins, 0, TOMATO, 25.4)} />
      <Box x={1105} y={2176} w={1023} h={107} make={() => violinChart(betaViolins, 1, CORNFLOWER, 25.4)} />
      <Box x={15} y={2457} w={1026} h={107} make={() => violinChart(deltaViolins, 2, SLATE, 25.5)} />
      <Box x={1105} y={2454} w={1023} h={109} make={() => violinChart(gammaViolins, 3, SEA, 26)} />
      <Band x={14} y={2303} color={TOMATO} s="α cells" />
      <Band x={1103} y={2303} color={CORNFLOWER} s="β cells" />
      <Band x={14} y={2583} color={SLATE} s="δ cells" />
      <Band x={1103} y={2583} color={SEA} s="γ cells" />
      {panelTags.map(([s, x, y], i) => <Txt key={i} x={x} y={y} s={s} size={39} />)}
    </div>
  );
}
